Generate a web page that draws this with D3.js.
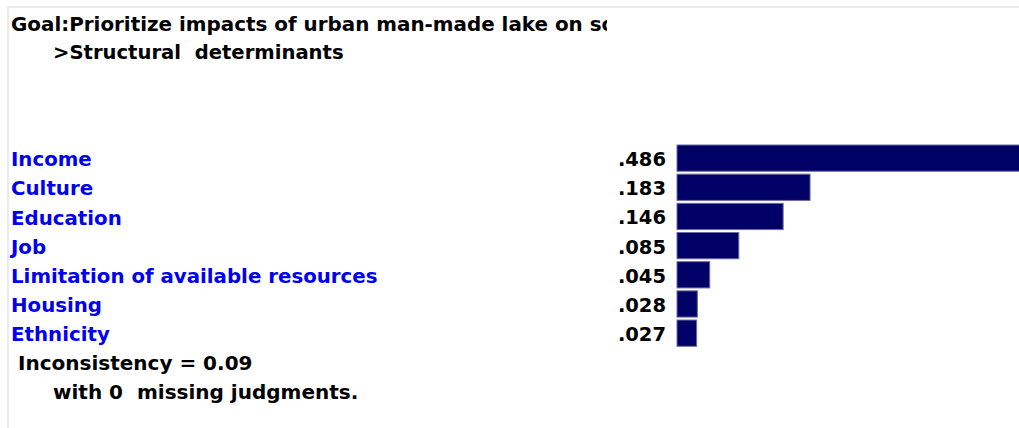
<!DOCTYPE html>
<html>
<head>
<meta charset="utf-8">
<script src="https://cdn.jsdelivr.net/npm/d3@7"></script>
<style>
  body { margin: 0; background: #fff; }
  text { font-family: "DejaVu Sans", Verdana, sans-serif; font-weight: bold; white-space: pre; }
</style>
</head>
<body>
<div id="chart"></div>
<script>
// priorities of the structural determinants
var categories = ["Income", "Culture", "Education", "Job", "Limitation of available resources", "Housing", "Ethnicity"];
var priorities = [0.486, 0.183, 0.146, 0.085, 0.045, 0.028, 0.027];
var valueLabels = [".486", ".183", ".146", ".085", ".045", ".028", ".027"];
var titleLines = ["Goal:Prioritize impacts of urban man-made lake on social health", ">Structural  determinants"];
var footLines = ["Inconsistency = 0.09", "with 0  missing judgments."];

var width = 1019, height = 428;

var svg = d3.select("#chart").append("svg")
  .attr("width", width)
  .attr("height", height);

// light frame on the top and left
svg.append("path")
  .attr("d", "M8," + height + "V7H" + width)
  .attr("fill", "none")
  .attr("stroke", "#ebebeb")
  .attr("stroke-width", 2);

svg.append("clipPath").attr("id", "titleclip")
  .append("rect").attr("x", 0).attr("y", 0).attr("width", 607).attr("height", 40);

svg.append("text")
  .attr("clip-path", "url(#titleclip)")
  .attr("x", 11).attr("y", 31)
  .attr("font-size", 19.9)
  .attr("fill", "#000")
  .text(titleLines[0]);

svg.append("text")
  .attr("x", 53).attr("y", 59)
  .attr("font-size", 19.6)
  .attr("fill", "#000")
  .text(titleLines[1]);

var y = d3.scaleBand()
  .domain(categories)
  .range([145, 145 + 29.17 * 6.9])
  .paddingInner(0.1)
  .paddingOuter(0);

var x = d3.scaleLinear()
  .domain([0, 0.5])
  .range([677, 677 + 363.5]);

var rows = svg.selectAll(".row")
  .data(categories)
  .enter().append("g")
  .attr("class", "row");

rows.append("text")
  .attr("x", 11)
  .attr("y", function(d) { return y(d) + y.bandwidth() / 2 + 1; })
  .attr("dy", "0.36em")
  .attr("font-size", 19.8)
  .attr("fill", "#0000f0")
  .text(function(d) { return d; });

rows.append("text")
  .attr("x", 666)
  .attr("y", function(d) { return y(d) + y.bandwidth() / 2 + 1; })
  .attr("dy", "0.36em")
  .attr("text-anchor", "end")
  .attr("font-size", 19.5)
  .attr("fill", "#000")
  .text(function(d, i) { return valueLabels[i]; });

rows.append("rect")
  .attr("x", x(0))
  .attr("y", function(d) { return y(d); })
  .attr("width", function(d, i) { return x(priorities[i]) - x(0); })
  .attr("height", y.bandwidth())
  .attr("fill", "#000066")
  .attr("stroke", "#6a6aa6")
  .attr("stroke-width", 1);

svg.append("text")
  .attr("x", 18).attr("y", 370)
  .attr("font-size", 20)
  .attr("fill", "#000")
  .text(footLines[0]);

svg.append("text")
  .attr("x", 53).attr("y", 399)
  .attr("font-size", 20)
  .attr("fill", "#000")
  .text(footLines[1]);
</script>
</body>
</html>
